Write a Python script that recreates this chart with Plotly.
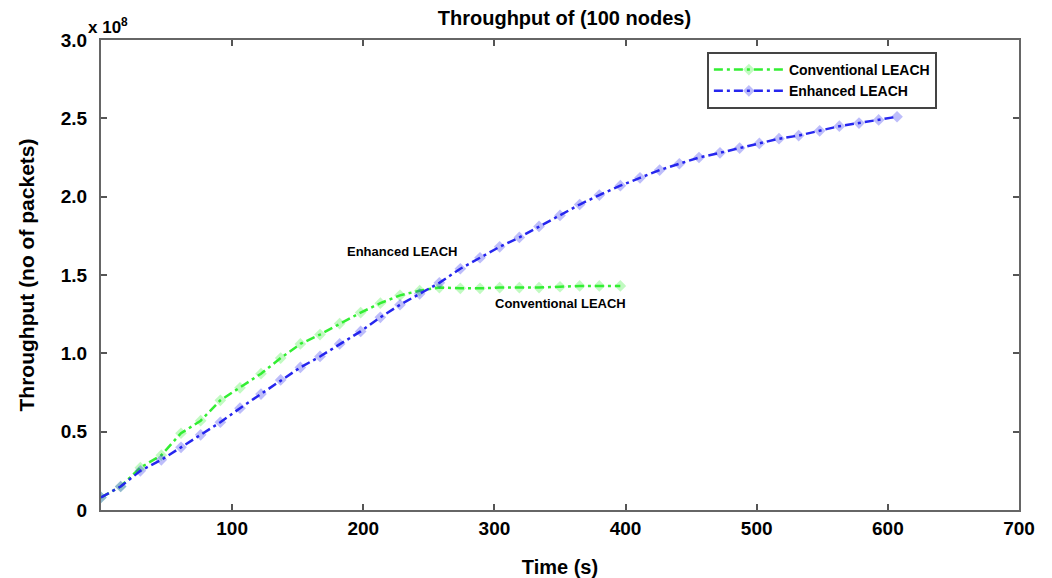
import plotly.graph_objects as go

# ---- data (throughput in units of 1e8 packets) ----
conv_time = [0, 15, 30, 46, 61, 76, 91, 106, 122, 137, 152, 167, 182, 198,
             213, 228, 243, 258, 274, 289, 304, 319, 334, 350, 365, 380, 396]
conv_throughput = [0.08, 0.15, 0.27, 0.35, 0.49, 0.57, 0.70, 0.78, 0.87, 0.97,
                   1.06, 1.12, 1.19, 1.26, 1.32, 1.37, 1.40, 1.42, 1.415, 1.415,
                   1.42, 1.42, 1.42, 1.425, 1.43, 1.43, 1.43]

enh_time = [0, 15, 30, 46, 61, 76, 91, 106, 122, 137, 152, 167, 182, 198, 213,
            228, 243, 258, 274, 289, 304, 319, 334, 350, 365, 380, 396, 411,
            426, 441, 456, 472, 487, 502, 517, 532, 548, 563, 578, 593, 607]
enh_throughput = [0.08, 0.15, 0.25, 0.32, 0.40, 0.48, 0.56, 0.65, 0.74, 0.83,
                  0.91, 0.98, 1.06, 1.14, 1.23, 1.31, 1.38, 1.45, 1.54, 1.61,
                  1.68, 1.74, 1.81, 1.88, 1.95, 2.01, 2.07, 2.12, 2.17, 2.21,
                  2.25, 2.28, 2.31, 2.34, 2.37, 2.39, 2.42, 2.45, 2.47, 2.49, 2.51]

x_ticks = [100, 200, 300, 400, 500, 600, 700]
y_ticks = [0, 0.5, 1.0, 1.5, 2.0, 2.5, 3.0]
y_tick_labels = ["0", "0.5", "1.0", "1.5", "2.0", "2.5", "3.0"]

series_names = ["Conventional LEACH", "Enhanced LEACH"]
series_colors = ["#33ee33", "#2626ee"]

fig = go.Figure()
for name, t, v, c in [(series_names[0], conv_time, conv_throughput, series_colors[0]),
                      (series_names[1], enh_time, enh_throughput, series_colors[1])]:
    fig.add_trace(go.Scatter(
        x=t, y=v, name=name, mode="lines+markers",
        line=dict(color=c, width=2.5, dash="9px,4px,3px,4px"),
        marker=dict(symbol="diamond", size=9, color=c, opacity=0.3,
                    line=dict(width=0)),
    ))

bold = dict(family="Liberation Sans, Arial, sans-serif", color="black", weight="bold")

fig.update_layout(
    width=1044, height=570,
    margin=dict(l=93, r=33, t=32, b=68, autoexpand=False),
    paper_bgcolor="white", plot_bgcolor="white",
    title=dict(text="Throughput of (100 nodes)", x=0.533, xanchor="center",
               y=0.982, yanchor="middle", font=dict(size=20, **bold)),
    showlegend=True,
    legend=dict(x=0.660, y=0.9745, xanchor="left", yanchor="top",
                bordercolor="#444444", borderwidth=2, bgcolor="white",
                font=dict(size=14, **bold), itemwidth=70,
                tracegroupgap=0),
    xaxis=dict(range=[0, 700], tickvals=x_ticks, ticks="inside", ticklen=6,
               tickwidth=2, tickcolor="#555555", showline=True, linewidth=2,
               linecolor="#666666", mirror="ticks", showgrid=False, zeroline=False,
               automargin=False, tickfont=dict(size=19, **bold),
               title=dict(text="Time (s)", font=dict(size=20, **bold), standoff=24)),
    yaxis=dict(range=[0, 3.0], tickvals=y_ticks, ticktext=y_tick_labels,
               ticks="inside", ticklen=6, tickwidth=2, tickcolor="#555555",
               showline=True, linewidth=2, linecolor="#666666", mirror="ticks",
               showgrid=False, zeroline=False, automargin=False,
               tickfont=dict(size=19, **bold), ticklabelstandoff=8,
               title=dict(text="Throughput (no of packets)", font=dict(size=21, **bold),
                          standoff=20)),
    annotations=[
        dict(text="x 10<sup>8</sup>", xref="paper", yref="paper", x=-0.016, y=1.03,
             xanchor="left", yanchor="middle", showarrow=False, font=dict(size=17, **bold)),
        dict(text="Enhanced LEACH", x=230, y=1.65, xref="x", yref="y", showarrow=False,
             font=dict(size=13, **bold)),
        dict(text="Conventional LEACH", x=350, y=1.315, xref="x", yref="y", showarrow=False,
             font=dict(size=13, **bold)),
    ],
)

fig.write_html("out.html")
